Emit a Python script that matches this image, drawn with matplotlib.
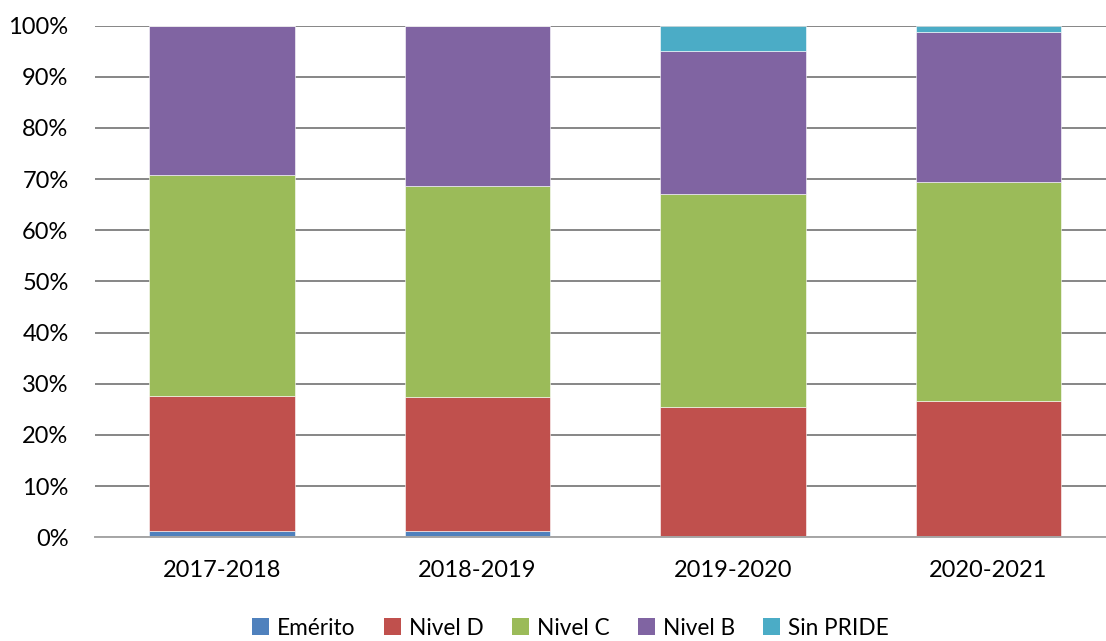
import matplotlib.pyplot as plt
import numpy as np
from matplotlib.patches import Patch
from matplotlib.ticker import PercentFormatter

plt.rcParams['font.family'] = ['Lato', 'DejaVu Sans']

periods = ['2017-2018', '2018-2019', '2019-2020', '2020-2021']
series = ['Emérito', 'Nivel D', 'Nivel C', 'Nivel B', 'Sin PRIDE']
emerito = [1.2, 1.2, 0.0, 0.0]
nivel_d = [26.5, 26.3, 25.5, 26.7]
nivel_c = [43.1, 41.2, 41.6, 42.7]
nivel_b = [29.2, 31.3, 27.9, 29.3]
sin_pride = [0.0, 0.0, 5.0, 1.3]
colors = ['#4F81BD', '#C0504D', '#9BBB59', '#8064A2', '#4BACC6']

fig = plt.figure(figsize=(11.06, 6.41), dpi=100)
ax = fig.add_axes([0.0859, 0.1618, 0.9141, 0.7982])

x = np.arange(len(periods))
bottom = np.zeros(len(periods))
for vals, color in zip([emerito, nivel_d, nivel_c, nivel_b, sin_pride], colors):
    ax.bar(x, vals, width=0.571, bottom=bottom, color=color,
           edgecolor='#ffffff', linewidth=0.4, zorder=3)
    bottom += np.array(vals)

ax.set_ylim(0, 100)
ax.set_xlim(-0.497, 3.46)
ax.set_yticks(np.arange(0, 101, 10))
ax.yaxis.set_major_formatter(PercentFormatter(decimals=0))
ax.set_xticks(x)
ax.set_xticklabels(periods)
ax.tick_params(axis='both', length=0, labelsize=17, colors='black')
ax.tick_params(axis='x', pad=16)
ax.tick_params(axis='y', pad=19)
ax.grid(axis='y', color='#868686', linewidth=1.4, zorder=0)
for s in ['top', 'right', 'left']:
    ax.spines[s].set_visible(False)
ax.spines['bottom'].set_color('#A6A6A6')
ax.spines['bottom'].set_linewidth(1.4)
ax.spines['bottom'].set_zorder(4)

handles = [Patch(facecolor=c, label=s) for c, s in zip(colors, series)]
fig.legend(handles=handles, loc='center', bbox_to_anchor=(0.516, 0.02),
           ncol=5, frameon=False, fontsize=16.3, handlelength=0.75,
           handleheight=0.75, handletextpad=0.35, columnspacing=1.25)

fig.savefig('out.png', dpi=100)
